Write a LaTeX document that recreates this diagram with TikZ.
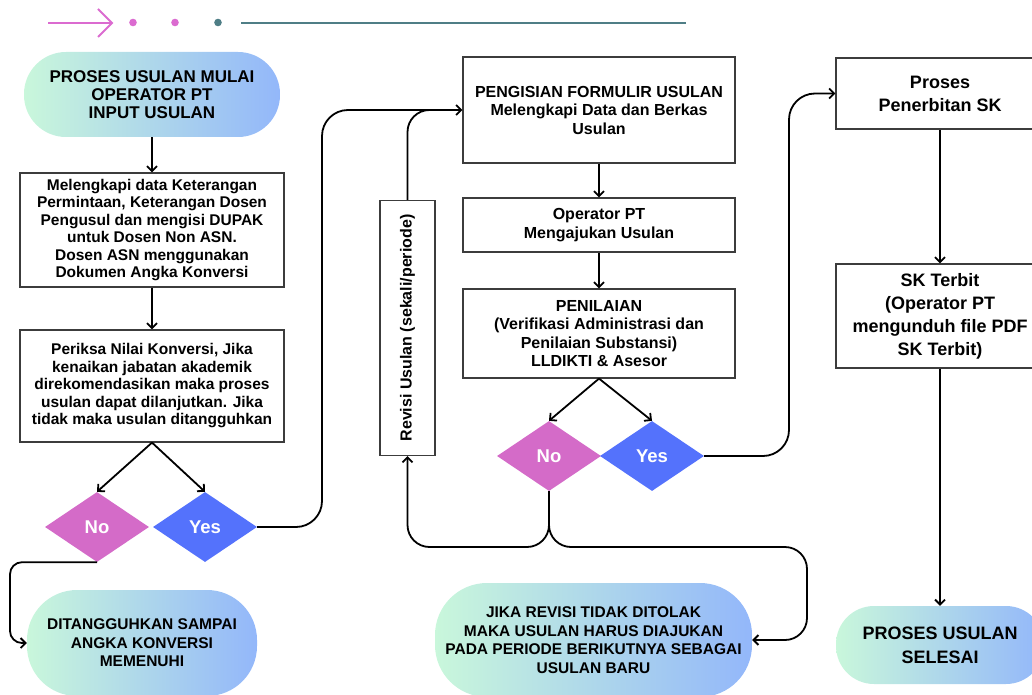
\documentclass[tikz,border=0pt]{standalone}
\usepackage{fontspec}
\setmainfont{Liberation Sans}
\usetikzlibrary{shapes.geometric,positioning,arrows.meta}

\definecolor{mintc}{HTML}{C9F7DB}
\definecolor{skyc}{HTML}{93B7FA}
\definecolor{pinkno}{HTML}{D46BC8}
\definecolor{blueyes}{HTML}{5472FC}
\definecolor{edgegray}{HTML}{3C3C3C}
\definecolor{decopink}{HTML}{DB6BD0}
\definecolor{decoteal}{HTML}{4F7E86}

\begin{document}
\begin{tikzpicture}[
  x=1pt, y=-1pt,
  >={Straight Barb[length=5pt,width=10pt]},
  box/.style={draw=edgegray,line width=1.2pt,fill=white,align=center,inner sep=2pt,
    font=\fontsize{15.5pt}{17.5pt}\selectfont\bfseries},
  midbox/.style={box,font=\fontsize{16pt}{18.5pt}\selectfont\bfseries},
  bigbox/.style={box,font=\fontsize{18pt}{23pt}\selectfont\bfseries},
  pill/.style={rectangle,rounded corners=#1,left color=mintc,right color=skyc,align=center,
    font=\fontsize{15.5pt}{18.5pt}\selectfont\bfseries},
  pill/.default=40pt,
  choice/.style={diamond,inner sep=0pt,minimum width=104pt,minimum height=70pt,
    text=white,font=\fontsize{18.5pt}{20pt}\selectfont\bfseries},
  flow/.style={->,line width=1.8pt},
  joint/.style={line width=1.8pt}
]
  \useasboundingbox (0,0) rectangle (1032,695);

  % header ornament
  \draw[decopink,line width=2pt] (48,23) -- (112,23);
  \draw[decopink,line width=2pt] (98,9) -- (112,23) -- (98,37);
  \foreach \x/\c in {133/decopink,175/decopink,218/decoteal}
    \fill[\c] (\x,22.5) circle (3.8pt);
  \draw[decoteal,line width=2.5pt] (241,23) -- (686,23);

  % left column
  \node[pill=42pt,minimum width=256pt,minimum height=85pt,
    font=\fontsize{17pt}{18pt}\selectfont\bfseries] (start) at (152,94.5)
    {PROSES USULAN MULAI\\OPERATOR PT\\INPUT USULAN};
  \node[box,minimum width=264pt,minimum height=114pt] (data) at (152,230)
    {Melengkapi data Keterangan\\Permintaan, Keterangan Dosen\\Pengusul dan mengisi DUPAK\\untuk Dosen Non ASN.\\Dosen ASN menggunakan\\Dokumen Angka Konversi};
  \node[box,minimum width=264pt,minimum height=112pt] (cek) at (152,386)
    {Periksa Nilai Konversi, Jika\\kenaikan jabatan akademik\\direkomendasikan maka proses\\usulan dapat dilanjutkan. Jika\\tidak maka usulan ditangguhkan};
  \node[choice,fill=pinkno] (noA) at (97,527) {No};
  \node[choice,fill=blueyes] (yesA) at (205,527) {Yes};
  \node[pill=50pt,minimum width=230pt,minimum height=106pt] (tunda) at (142,643)
    {DITANGGUHKAN SAMPAI\\ANGKA KONVERSI\\MEMENUHI};

  % middle column
  \node[box,rotate=90,minimum width=255pt,minimum height=55pt,
    font=\fontsize{16pt}{17pt}\selectfont\bfseries] (revisi) at (407.5,328)
    {Revisi Usulan (sekali/periode)};
  \node[midbox,minimum width=272pt,minimum height=106pt] (form) at (599,110)
    {PENGISIAN FORMULIR USULAN\\Melengkapi Data dan Berkas\\Usulan};
  \node[midbox,minimum width=272pt,minimum height=54pt] (ajukan) at (599,225)
    {Operator PT\\Mengajukan Usulan};
  \node[midbox,minimum width=272pt,minimum height=89pt] (nilai) at (599,333.5)
    {PENILAIAN\\(Verifikasi Administrasi dan\\Penilaian Substansi)\\LLDIKTI \& Asesor};
  \node[choice,fill=pinkno] (noB) at (549,456) {No};
  \node[choice,fill=blueyes] (yesB) at (652,456) {Yes};
  \node[pill=52pt,minimum width=317pt,minimum height=114pt] (baru) at (593.5,640)
    {JIKA REVISI TIDAK DITOLAK\\MAKA USULAN HARUS DIAJUKAN\\PADA PERIODE BERIKUTNYA SEBAGAI\\USULAN BARU};

  % right column
  \node[bigbox,minimum width=208pt,minimum height=71pt] (terbit) at (940,93.5)
    {Proses\\Penerbitan SK};
  \node[bigbox,minimum width=208pt,minimum height=104pt] (sk) at (940,316)
    {SK Terbit\\(Operator PT\\mengunduh file PDF\\SK Terbit)};
  \node[pill=38pt,minimum width=208pt,minimum height=78pt,
    font=\fontsize{18pt}{24pt}\selectfont\bfseries] (selesai) at (940,645)
    {PROSES USULAN\\SELESAI};

  % connectors
  \coordinate (upA) at (322,110);
  \coordinate (joinR) at (440,110);
  \coordinate (sideA) at (10,643);
  \coordinate (upB) at (789,93.5);
  \coordinate (lowL) at (407.5,547);
  \coordinate (lowR) at (807,547);

  \draw[flow] (start) -- (data);
  \draw[flow] (data) -- (cek);
  \draw[flow] (cek.south) -- (noA.north);
  \draw[flow] (cek.south) -- (yesA.north);
  \draw[flow,rounded corners=26pt] (yesA.east) -| (upA) -- (form.west);
  \draw[joint,rounded corners=22pt] (revisi.east) |- (joinR);
  \draw[flow,rounded corners=12pt] (noA.south) -| (sideA) -- (tunda.west);

  \draw[flow] (form) -- (ajukan);
  \draw[flow] (ajukan) -- (nilai);
  \draw[flow] (nilai.south) -- (noB.north);
  \draw[flow] (nilai.south) -- (yesB.north);
  \draw[flow,rounded corners=26pt] (yesB.east) -| (upB) -- (terbit.west);
  \draw[flow,rounded corners=22pt] (noB.south) |- (lowL) -- (revisi.west);
  \draw[flow,rounded corners=22pt] (noB.south) |- (lowR) |- (baru.east);

  \draw[flow] (terbit) -- (sk);
  \draw[flow] (sk) -- (selesai);
\end{tikzpicture}
\end{document}
